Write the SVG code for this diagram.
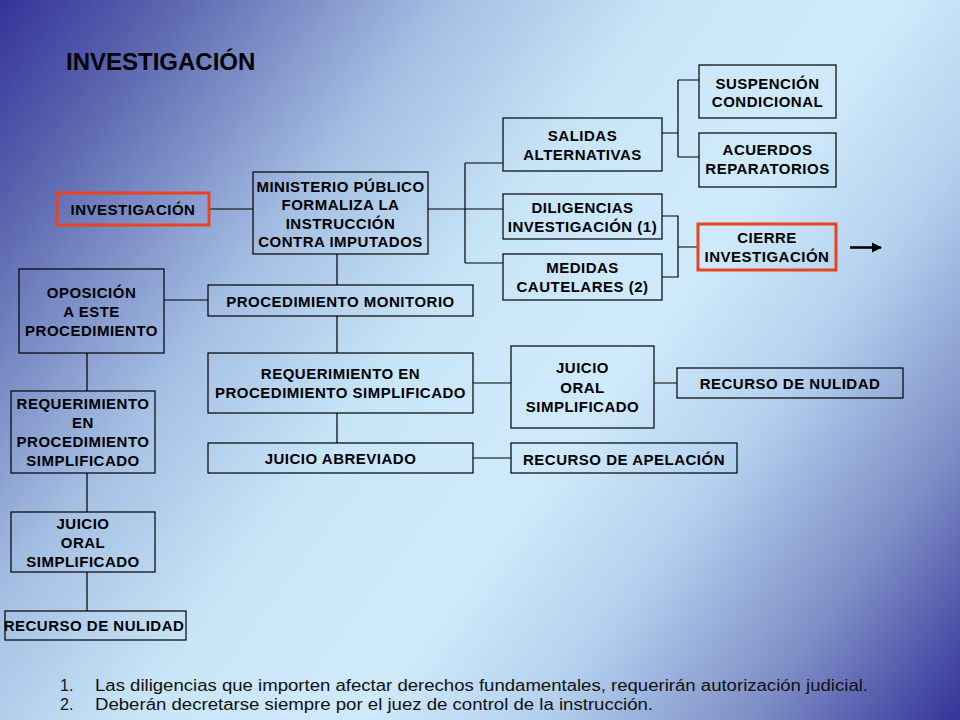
<svg xmlns="http://www.w3.org/2000/svg" width="960" height="720" viewBox="0 0 960 720">
<defs>
<linearGradient id="bg" gradientUnits="userSpaceOnUse" x1="0" y1="0" x2="960" y2="720">
<stop offset="0" stop-color="#333399"/>
<stop offset="0.12" stop-color="#5d68b0"/>
<stop offset="0.3" stop-color="#a5bfe3"/>
<stop offset="0.45" stop-color="#c9e6f8"/>
<stop offset="0.6" stop-color="#cfeafb"/>
<stop offset="0.72" stop-color="#b3d0ee"/>
<stop offset="0.86" stop-color="#7e8ec6"/>
<stop offset="1" stop-color="#333399"/>
</linearGradient>
<marker id="arr" viewBox="0 0 10 10" refX="9" refY="5" markerWidth="4" markerHeight="4" orient="auto" markerUnits="strokeWidth">
<path d="M0,0 L10,5 L0,10 z" fill="#000"/>
</marker>
<style>
.box{fill:none;stroke:#000;stroke-width:1.2}
.red{fill:none;stroke:#e8441e;stroke-width:3}
.t{font-family:"Liberation Sans",Arial,sans-serif;font-weight:bold;font-size:15px;letter-spacing:0.5px;fill:#000;text-anchor:middle}
.ln{fill:none;stroke:#000;stroke-width:1.2}
.ft{font-family:"Liberation Sans",Arial,sans-serif;font-size:16px;fill:#111}
</style>
</defs>
<rect x="0" y="0" width="960" height="720" fill="url(#bg)"/>
<text x="66" y="70" style="font-family:'Liberation Sans',Arial,sans-serif;font-weight:bold;font-size:24px;fill:#000">INVESTIGACIÓN</text>

<g id="connectors">
<path class="ln" d="M209,209 H253"/>
<path class="ln" d="M428,209 H465"/>
<path class="ln" d="M465,163 V263"/>
<path class="ln" d="M465,163 H503 M465,209 H503 M465,263 H503"/>
<path class="ln" d="M662,133 H678 M678,80 V157 M678,80 H699 M678,157 H699"/>
<path class="ln" d="M662,216 H678 V277 H662 M678,247 H698"/>
<path d="M850,247.5 H881" stroke="#000" stroke-width="2.6" fill="none" marker-end="url(#arr)"/>
<path class="ln" d="M337,254 V285 M337,316 V353 M337,413 V443"/>
<path class="ln" d="M164,300 H208"/>
<path class="ln" d="M87,353 V391 M87,473 V512 M87,572 V611"/>
<path class="ln" d="M473,383 H511 M654,383 H677"/>
<path class="ln" d="M473,458 H511"/>
</g>

<g id="n-investigacion"><rect class="red" x="57" y="193" width="152" height="32"/><text class="t" x="133" y="215">INVESTIGACIÓN</text></g>
<g id="n-ministerio"><rect class="box" x="253" y="172" width="175" height="82"/>
<text class="t" x="340.5" y="191.5">MINISTERIO PÚBLICO</text>
<text class="t" x="340.5" y="210">FORMALIZA LA</text>
<text class="t" x="340.5" y="228.5">INSTRUCCIÓN</text>
<text class="t" x="340.5" y="247">CONTRA IMPUTADOS</text></g>
<g id="n-oposicion"><rect class="box" x="19" y="269" width="145" height="84"/>
<text class="t" x="91.5" y="297.5">OPOSICIÓN</text>
<text class="t" x="91.5" y="316.5">A ESTE</text>
<text class="t" x="91.5" y="335.5">PROCEDIMIENTO</text></g>
<g id="n-monitorio"><rect class="box" x="208" y="285" width="265" height="31"/>
<text class="t" x="340.5" y="306.5">PROCEDIMIENTO MONITORIO</text></g>
<g id="n-req-r"><rect class="box" x="208" y="353" width="265" height="60"/>
<text class="t" x="340.5" y="379">REQUERIMIENTO EN</text>
<text class="t" x="340.5" y="397.5">PROCEDIMIENTO SIMPLIFICADO</text></g>
<g id="n-abreviado"><rect class="box" x="208" y="443" width="265" height="30"/>
<text class="t" x="340.5" y="464">JUICIO ABREVIADO</text></g>
<g id="n-juicio-r"><rect class="box" x="511" y="346" width="143" height="82"/>
<text class="t" x="582.5" y="373">JUICIO</text>
<text class="t" x="582.5" y="392.5">ORAL</text>
<text class="t" x="582.5" y="411.5">SIMPLIFICADO</text></g>
<g id="n-nulidad-r"><rect class="box" x="677" y="368" width="226" height="30"/>
<text class="t" x="790" y="389">RECURSO DE NULIDAD</text></g>
<g id="n-apelacion"><rect class="box" x="511" y="443" width="226" height="30"/>
<text class="t" x="624" y="465">RECURSO DE APELACIÓN</text></g>
<g id="n-salidas"><rect class="box" x="503" y="118" width="159" height="53"/>
<text class="t" x="582.5" y="141">SALIDAS</text>
<text class="t" x="582.5" y="159.5">ALTERNATIVAS</text></g>
<g id="n-suspencion"><rect class="box" x="699" y="65" width="137" height="53"/>
<text class="t" x="767.5" y="88.5">SUSPENCIÓN</text>
<text class="t" x="767.5" y="107">CONDICIONAL</text></g>
<g id="n-acuerdos"><rect class="box" x="699" y="133" width="137" height="54"/>
<text class="t" x="767.5" y="155">ACUERDOS</text>
<text class="t" x="767.5" y="174">REPARATORIOS</text></g>
<g id="n-diligencias"><rect class="box" x="503" y="194" width="159" height="45"/>
<text class="t" x="582.5" y="212.5">DILIGENCIAS</text>
<text class="t" x="582.5" y="231.5">INVESTIGACIÓN (1)</text></g>
<g id="n-medidas"><rect class="box" x="503" y="254" width="159" height="46"/>
<text class="t" x="582.5" y="273">MEDIDAS</text>
<text class="t" x="582.5" y="292">CAUTELARES (2)</text></g>
<g id="n-cierre"><rect class="red" x="698" y="224" width="138" height="46"/>
<text class="t" x="767" y="243">CIERRE</text>
<text class="t" x="767" y="261.5">INVESTIGACIÓN</text></g>
<g id="n-req-l"><rect class="box" x="11" y="391" width="144" height="82"/>
<text class="t" x="83" y="409">REQUERIMIENTO</text>
<text class="t" x="83" y="428">EN</text>
<text class="t" x="83" y="446.5">PROCEDIMIENTO</text>
<text class="t" x="83" y="466">SIMPLIFICADO</text></g>
<g id="n-juicio-l"><rect class="box" x="11" y="512" width="144" height="60"/>
<text class="t" x="83" y="528.5">JUICIO</text>
<text class="t" x="83" y="547.5">ORAL</text>
<text class="t" x="83" y="566.5">SIMPLIFICADO</text></g>
<g id="n-nulidad-l"><rect class="box" x="5" y="611" width="181" height="29"/>
<text class="t" x="94" y="631">RECURSO DE NULIDAD</text></g>

<g id="footer">
<text class="ft" x="60" y="691">1.</text>
<text class="ft" x="95" y="691" textLength="773" lengthAdjust="spacingAndGlyphs">Las diligencias que importen afectar derechos fundamentales, requerirán autorización judicial.</text>
<text class="ft" x="60" y="710">2.</text>
<text class="ft" x="95" y="710" textLength="558" lengthAdjust="spacingAndGlyphs">Deberán decretarse siempre por el juez de control de la instrucción.</text>
</g>
</svg>
